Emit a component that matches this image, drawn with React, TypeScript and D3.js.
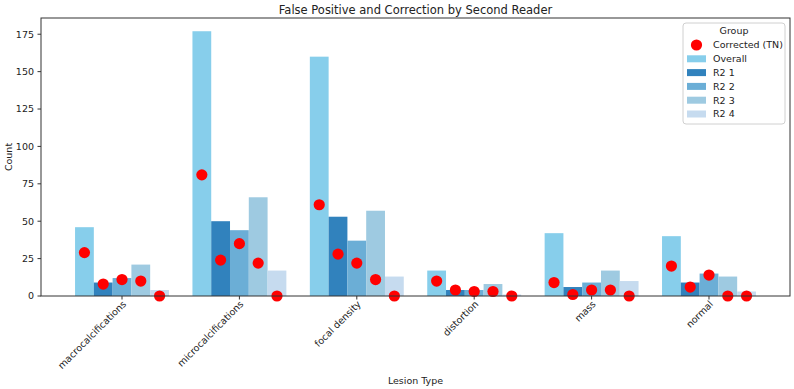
import React from "react";
import * as d3 from "d3";

const categories = ["macrocalcifications", "microcalcifications", "focal density", "distortion", "mass", "normal"];
const groups = ["Overall", "R2 1", "R2 2", "R2 3", "R2 4"];
const overall = [46, 177, 160, 17, 42, 40];
const r2_1 = [9, 50, 53, 4, 6, 9];
const r2_2 = [12, 44, 37, 4, 9, 15];
const r2_3 = [21, 66, 57, 8, 17, 13];
const r2_4 = [4, 17, 13, 1, 10, 3];
const corrOverall = [29, 81, 61, 10, 9, 20];
const corrR2_1 = [8, 24, 28, 4, 1, 6];
const corrR2_2 = [11, 35, 22, 3, 4, 14];
const corrR2_3 = [10, 22, 11, 3, 4, 0];
const corrR2_4 = [0, 0, 0, 0, 0, 0];
const yTicks = [0, 25, 50, 75, 100, 125, 150, 175];

const counts = [overall, r2_1, r2_2, r2_3, r2_4];
const corrected = [corrOverall, corrR2_1, corrR2_2, corrR2_3, corrR2_4];
const colors = ["#87ceeb", "#3182bd", "#6baed6", "#9ecae1", "#c6dbef"];

const W = 794, H = 389;
const L = 41, R = 790, T = 18, B = 296;
const FONT = "DejaVu Sans, sans-serif";

export default function App() {
  const n = categories.length;
  const barW = 0.16;
  // category index domain with matplotlib-style 5% margins
  const lo = -2.5 * barW, hi = n - 1 + 2.5 * barW;
  const pad = (hi - lo) * 0.05;
  const x = d3.scaleLinear().domain([lo - pad, hi + pad]).range([L, R]);
  const yMax = d3.max(overall)! * 1.05;
  const y = d3.scaleLinear().domain([0, yMax]).range([B, T]);
  const bw = x(barW) - x(0);

  const legendItems = ["Corrected (TN)", ...groups];
  const lx = 683, ly = 23;

  return (
    <svg width={W} height={H} style={{ position: "absolute", left: 0, top: 0 }} fontFamily={FONT}>
      <rect width={W} height={H} fill="#fff" />
      {counts.map((vals, g) =>
        vals.map((v, i) => {
          const cx = i + (g - 2) * barW;
          return (
            <rect key={`b${g}-${i}`} x={x(cx) - bw / 2} y={y(v)} width={bw} height={y(0) - y(v)} fill={colors[g]} />
          );
        })
      )}
      {corrected.map((vals, g) =>
        vals.map((v, i) => {
          const cx = i + (g - 2) * barW;
          return <circle key={`c${g}-${i}`} cx={x(cx)} cy={y(v)} r={5.6} fill="#ff0000" />;
        })
      )}
      <rect x={L} y={T} width={R - L} height={B - T} fill="none" stroke="#333" strokeWidth={1} />
      {yTicks.map((t) => (
        <g key={t}>
          <line x1={L - 3.5} x2={L} y1={y(t)} y2={y(t)} stroke="#333" />
          <text x={L - 7} y={y(t)} dy="0.35em" textAnchor="end" fontSize={9.5} fill="#222">
            {t}
          </text>
        </g>
      ))}
      {categories.map((c, i) => (
        <g key={c}>
          <line x1={x(i)} x2={x(i)} y1={B} y2={B + 3.5} stroke="#333" />
          <text
            transform={`translate(${x(i) + 1},${B + 5}) rotate(-45)`}
            textAnchor="end"
            dy="0.55em"
            fontSize={9.5}
            fill="#222"
          >
            {c}
          </text>
        </g>
      ))}
      <text x={(L + R) / 2} y={10} dy="0.35em" textAnchor="middle" fontSize={11.5} fill="#222">
        False Positive and Correction by Second Reader
      </text>
      <text x={(L + R) / 2} y={381} dy="0.35em" textAnchor="middle" fontSize={9.5} fill="#222">
        Lesion Type
      </text>
      <text transform={`translate(9,${(T + B) / 2}) rotate(-90)`} textAnchor="middle" dy="0.35em" fontSize={9.5} fill="#222">
        Count
      </text>
      <g>
        <rect x={lx} y={ly} width={102} height={101} rx={3} fill="#fff" fillOpacity={0.8} stroke="#d0d0d0" />
        <text x={lx + 51} y={ly + 8} dy="0.35em" textAnchor="middle" fontSize={9.5} fill="#222">
          Group
        </text>
        {legendItems.map((item, k) => {
          const yy = ly + 22 + k * 13.8;
          return (
            <g key={item}>
              {k === 0 ? (
                <circle cx={lx + 13.5} cy={yy} r={5.6} fill="#ff0000" />
              ) : (
                <rect x={lx + 4} y={yy - 3.5} width={19} height={7} fill={colors[k - 1]} />
              )}
              <text x={lx + 30} y={yy} dy="0.35em" fontSize={9.5} fill="#222">
                {item}
              </text>
            </g>
          );
        })}
      </g>
    </svg>
  );
}
